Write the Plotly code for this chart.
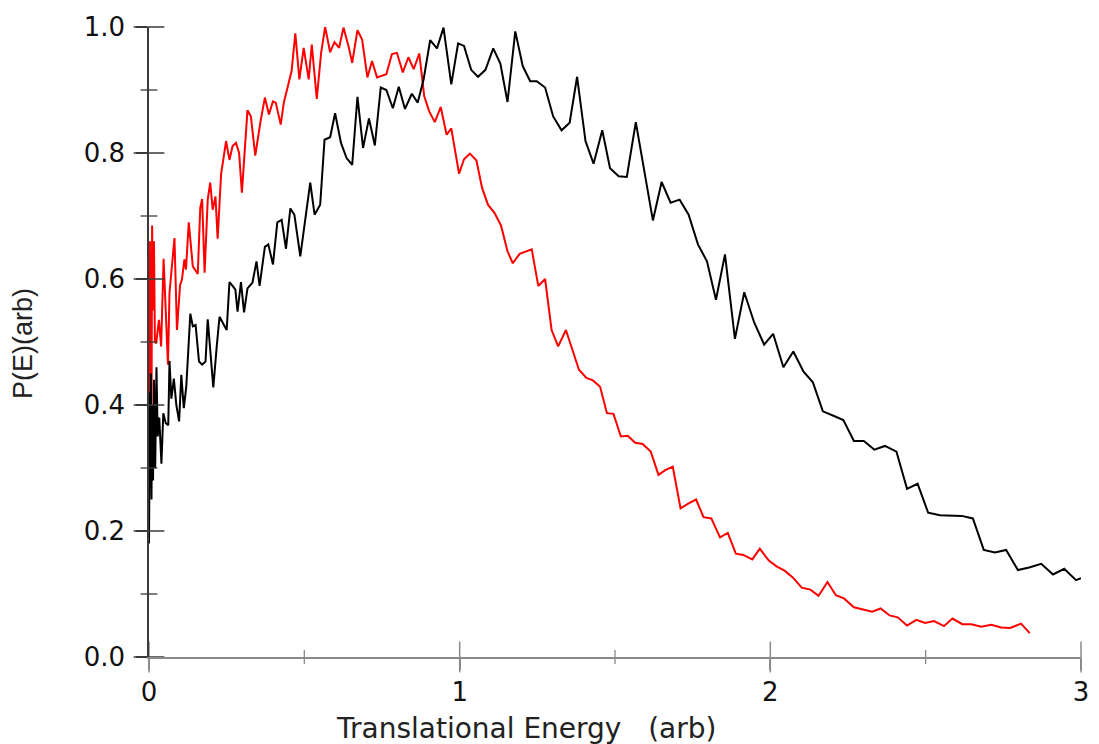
import plotly.graph_objects as go

# ---- data ----
black_E = [0.000, 0.001, 0.002, 0.003, 0.004, 0.006, 0.008, 0.010, 0.013, 0.016, 0.020, 0.024, 0.028, 0.033,
           0.040, 0.046, 0.054, 0.062, 0.066, 0.072, 0.080, 0.088, 0.097, 0.104, 0.112, 0.120, 0.133, 0.141,
           0.150, 0.161, 0.171, 0.182, 0.189, 0.200, 0.207, 0.218, 0.227, 0.250, 0.259, 0.271, 0.278, 0.285,
           0.296, 0.306, 0.317, 0.333, 0.346, 0.356, 0.373, 0.384, 0.399, 0.413, 0.427, 0.441, 0.455, 0.468,
           0.487, 0.519, 0.533, 0.551, 0.565, 0.583, 0.599, 0.618, 0.636, 0.654, 0.671, 0.689, 0.708, 0.727,
           0.746, 0.764, 0.785, 0.804, 0.824, 0.846, 0.865, 0.884, 0.905, 0.927, 0.948, 0.973, 0.995, 1.014,
           1.037, 1.059, 1.083, 1.108, 1.131, 1.154, 1.179, 1.203, 1.227, 1.248, 1.275, 1.301, 1.328, 1.354,
           1.378, 1.405, 1.431, 1.459, 1.484, 1.512, 1.538, 1.567, 1.594, 1.622, 1.650, 1.679, 1.708, 1.737,
           1.767, 1.796, 1.825, 1.854, 1.886, 1.916, 1.948, 1.980, 2.009, 2.042, 2.074, 2.107, 2.137, 2.169,
           2.203, 2.235, 2.269, 2.301, 2.335, 2.369, 2.406, 2.440, 2.474, 2.508, 2.546, 2.578, 2.616, 2.652,
           2.687, 2.723, 2.759, 2.797, 2.833, 2.872, 2.910, 2.946, 2.984, 3.000]
black_P = [0.18, 0.30, 0.24, 0.42, 0.27, 0.45, 0.25, 0.40, 0.28, 0.44, 0.30, 0.46, 0.35, 0.38,
           0.307, 0.387, 0.371, 0.368, 0.47, 0.41, 0.442, 0.40, 0.374, 0.448, 0.395, 0.429, 0.545, 0.525,
           0.527, 0.469, 0.464, 0.469, 0.536, 0.461, 0.428, 0.493, 0.54, 0.519, 0.595, 0.588, 0.583, 0.548,
           0.595, 0.547, 0.585, 0.594, 0.628, 0.589, 0.651, 0.655, 0.623, 0.69, 0.694, 0.648, 0.712, 0.702,
           0.636, 0.753, 0.702, 0.718, 0.821, 0.825, 0.863, 0.816, 0.792, 0.781, 0.889, 0.808, 0.855, 0.812,
           0.904, 0.900, 0.871, 0.905, 0.870, 0.894, 0.880, 0.917, 0.979, 0.966, 0.999, 0.909, 0.974, 0.970,
           0.932, 0.921, 0.932, 0.966, 0.942, 0.881, 0.993, 0.938, 0.914, 0.914, 0.904, 0.858, 0.836, 0.848,
           0.921, 0.819, 0.783, 0.836, 0.776, 0.763, 0.762, 0.849, 0.769, 0.693, 0.754, 0.721, 0.726, 0.702,
           0.655, 0.628, 0.567, 0.639, 0.505, 0.579, 0.531, 0.496, 0.513, 0.460, 0.485, 0.453, 0.436, 0.390,
           0.383, 0.376, 0.343, 0.343, 0.329, 0.335, 0.326, 0.267, 0.275, 0.229, 0.225, 0.224, 0.224, 0.220,
           0.170, 0.166, 0.170, 0.138, 0.142, 0.148, 0.131, 0.140, 0.122, 0.125]

red_E = [0.000, 0.001, 0.002, 0.003, 0.004, 0.006, 0.008, 0.010, 0.013, 0.016, 0.019, 0.023, 0.032, 0.039,
         0.047, 0.053, 0.061, 0.066, 0.082, 0.090, 0.100, 0.106, 0.114, 0.119, 0.128, 0.141, 0.157, 0.165,
         0.171, 0.179, 0.189, 0.197, 0.205, 0.214, 0.221, 0.232, 0.248, 0.259, 0.269, 0.280, 0.290, 0.299,
         0.317, 0.328, 0.342, 0.360, 0.373, 0.386, 0.399, 0.408, 0.424, 0.434, 0.459, 0.471, 0.484, 0.498,
         0.514, 0.524, 0.540, 0.554, 0.567, 0.583, 0.597, 0.612, 0.626, 0.642, 0.654, 0.671, 0.686, 0.703,
         0.718, 0.734, 0.749, 0.764, 0.782, 0.798, 0.817, 0.835, 0.852, 0.870, 0.886, 0.902, 0.920, 0.939,
         0.958, 0.973, 0.998, 1.014, 1.033, 1.054, 1.072, 1.091, 1.112, 1.133, 1.154, 1.171, 1.193, 1.212,
         1.232, 1.253, 1.275, 1.296, 1.317, 1.342, 1.384, 1.408, 1.429, 1.452, 1.474, 1.495, 1.519, 1.541,
         1.565, 1.589, 1.615, 1.640, 1.663, 1.686, 1.711, 1.737, 1.761, 1.785, 1.810, 1.838, 1.863, 1.889,
         1.913, 1.942, 1.966, 1.995, 2.020, 2.046, 2.073, 2.101, 2.129, 2.155, 2.184, 2.211, 2.237, 2.269,
         2.299, 2.328, 2.355, 2.384, 2.410, 2.440, 2.470, 2.498, 2.527, 2.559, 2.586, 2.618, 2.647, 2.679,
         2.711, 2.743, 2.772, 2.807, 2.835]
red_P = [0.30, 0.58, 0.33, 0.66, 0.42, 0.64, 0.38, 0.685, 0.55, 0.66, 0.50, 0.498, 0.535, 0.493,
         0.632, 0.551, 0.464, 0.578, 0.665, 0.519, 0.590, 0.599, 0.631, 0.615, 0.690, 0.620, 0.608, 0.713,
         0.727, 0.610, 0.726, 0.753, 0.710, 0.731, 0.664, 0.766, 0.819, 0.789, 0.811, 0.816, 0.800, 0.737,
         0.868, 0.858, 0.796, 0.853, 0.888, 0.861, 0.882, 0.880, 0.845, 0.880, 0.930, 0.990, 0.917, 0.967,
         0.917, 0.972, 0.886, 0.959, 1.000, 0.960, 0.976, 0.967, 0.999, 0.970, 0.943, 0.995, 0.980, 0.920,
         0.946, 0.920, 0.922, 0.925, 0.957, 0.959, 0.928, 0.952, 0.933, 0.958, 0.890, 0.866, 0.849, 0.873,
         0.829, 0.839, 0.767, 0.790, 0.799, 0.788, 0.745, 0.718, 0.705, 0.685, 0.644, 0.625, 0.640, 0.643,
         0.647, 0.589, 0.600, 0.519, 0.493, 0.519, 0.456, 0.443, 0.439, 0.429, 0.387, 0.386, 0.350, 0.351,
         0.340, 0.338, 0.326, 0.289, 0.297, 0.302, 0.236, 0.244, 0.250, 0.222, 0.220, 0.190, 0.197, 0.164,
         0.162, 0.155, 0.172, 0.153, 0.144, 0.137, 0.126, 0.110, 0.107, 0.097, 0.119, 0.098, 0.093, 0.079,
         0.075, 0.072, 0.077, 0.066, 0.063, 0.050, 0.059, 0.054, 0.057, 0.049, 0.061, 0.052, 0.052, 0.048,
         0.051, 0.047, 0.046, 0.053, 0.038]

x_tickvals = [0, 1, 2, 3]
x_ticktext = ["0", "1", "2", "3"]
x_minorvals = [0.5, 1.5, 2.5]
y_tickvals = [0.0, 0.2, 0.4, 0.6, 0.8, 1.0]
y_ticktext = ["0.0", "0.2", "0.4", "0.6", "0.8", "1.0"]
y_minorvals = [0.1, 0.3, 0.5, 0.7, 0.9]
x_title = "Translational Energy &nbsp;&nbsp;(arb)"
y_title = "P(E)(arb)"

XCOL = "#8a8a8a"
YCOL = "#3a3a3a"
TICKFONT = dict(family="DejaVu Sans, Verdana, sans-serif", size=26, color="#111111")

fig = go.Figure()
fig.add_trace(go.Scatter(x=red_E, y=red_P, mode="lines",
                         line=dict(color="#ff0000", width=2), showlegend=False))
fig.add_trace(go.Scatter(x=black_E, y=black_P, mode="lines",
                         line=dict(color="#000000", width=2), showlegend=False))


def tick_marks(xs, ys, symbol, size, color, width):
    # crossing tick marks drawn as line-shaped markers centred on the axis line
    return go.Scatter(x=xs, y=ys, mode="markers", cliponaxis=False, showlegend=False, hoverinfo="skip",
                      marker=dict(symbol=symbol, size=size, color=color,
                                  line=dict(color=color, width=width)))


fig.add_trace(tick_marks(x_tickvals, [0] * len(x_tickvals), "line-ns", 22, XCOL, 1.5))
fig.add_trace(tick_marks(x_minorvals, [0] * len(x_minorvals), "line-ns", 10, XCOL, 1.3))
fig.add_trace(tick_marks([0] * len(y_tickvals), y_tickvals, "line-ew", 22, YCOL, 1.5))
fig.add_trace(tick_marks([0] * len(y_minorvals), y_minorvals, "line-ew", 12, YCOL, 1.3))

fig.update_layout(
    width=1099, height=744,
    margin=dict(l=149, r=10, t=27, b=87),
    paper_bgcolor="white", plot_bgcolor="white",
    xaxis=dict(range=[0, 3], tickvals=x_tickvals, ticktext=x_ticktext,
               showline=True, linecolor=XCOL, linewidth=1.5, mirror=False,
               ticks="outside", ticklen=11, tickwidth=1.5, tickcolor=XCOL,
               showgrid=False, zeroline=False, tickfont=TICKFONT, ticklabelstandoff=0),
    yaxis=dict(range=[0, 1], tickvals=y_tickvals, ticktext=y_ticktext,
               showline=True, linecolor=YCOL, linewidth=1.5,
               ticks="outside", ticklen=11, tickwidth=1.5, tickcolor=YCOL,
               showgrid=False, zeroline=False, tickfont=TICKFONT, ticklabelstandoff=6),
    annotations=[
        dict(text=x_title, xref="paper", yref="paper", x=0.404, y=-0.113,
             xanchor="center", yanchor="middle", showarrow=False,
             font=dict(family="DejaVu Sans, Verdana, sans-serif", size=28, color="#222222")),
        dict(text=y_title, xref="paper", yref="paper", x=-0.135, y=0.497,
             xanchor="center", yanchor="middle", showarrow=False, textangle=-90,
             font=dict(family="Liberation Sans, Arial, sans-serif", size=27, color="#222222")),
    ],
)

fig.write_html("out.html")
